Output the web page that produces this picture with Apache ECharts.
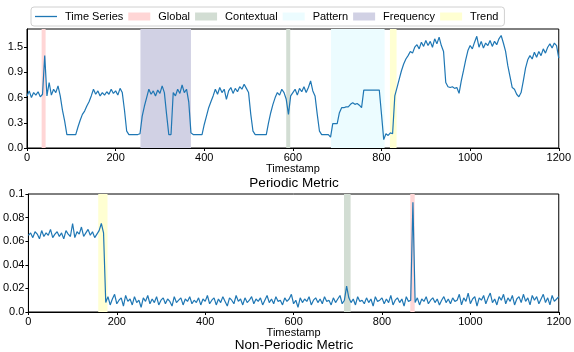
<!DOCTYPE html>
<html>
<head>
<meta charset="utf-8">
<script src="https://cdn.jsdelivr.net/npm/echarts@6/dist/echarts.min.js"></script>
<style>
  html, body { margin: 0; padding: 0; background: #fff; }
  #chart { width: 574px; height: 352px; }
</style>
</head>
<body>
<div id="chart"></div>
<script>
// one sample every 5 timestamps, 0..1200
const step = 5

const periodicValues = [
  0.62,0.68,0.60,0.66,0.63,0.67,0.61,0.64,1.10,0.62,
  0.78,0.63,0.70,0.66,0.74,0.62,0.45,0.32,0.16,0.16,
  0.16,0.16,0.16,0.25,0.33,0.40,0.44,0.50,0.55,0.62,
  0.70,0.64,0.68,0.62,0.66,0.63,0.67,0.64,0.70,0.65,
  0.68,0.63,0.71,0.66,0.45,0.20,0.16,0.16,0.16,0.16,
  0.16,0.17,0.38,0.50,0.60,0.70,0.64,0.68,0.62,0.69,
  0.65,0.74,0.66,0.40,0.16,0.16,0.66,0.62,0.70,0.65,
  0.75,0.66,0.70,0.55,0.18,0.16,0.16,0.16,0.16,0.16,
  0.28,0.38,0.48,0.55,0.62,0.70,0.64,0.72,0.66,0.70,
  0.58,0.68,0.72,0.65,0.71,0.67,0.73,0.70,0.76,0.71,
  0.66,0.40,0.20,0.16,0.16,0.16,0.16,0.16,0.16,0.30,
  0.42,0.52,0.60,0.66,0.63,0.70,0.66,0.58,0.40,0.62,
  0.66,0.70,0.63,0.71,0.67,0.73,0.66,0.72,0.80,0.68,
  0.62,0.40,0.20,0.16,0.16,0.16,0.16,0.13,0.29,0.29,
  0.29,0.42,0.48,0.48,0.49,0.49,0.52,0.54,0.52,0.53,
  0.51,0.48,0.69,0.69,0.69,0.69,0.69,0.69,0.69,0.69,
  0.40,0.10,0.17,0.15,0.18,0.17,0.62,0.72,0.82,0.92,
  1.00,1.06,1.10,1.15,1.13,1.20,1.23,1.18,1.26,1.21,
  1.28,1.22,1.27,1.20,1.30,1.24,1.32,1.22,1.15,0.78,
  0.73,0.72,0.73,0.71,0.72,0.65,0.80,0.92,1.05,1.16,
  1.22,1.18,1.26,1.33,1.20,1.27,1.19,1.25,1.22,1.28,
  1.21,1.27,1.23,1.30,1.34,1.25,1.15,0.98,0.85,0.72,
  0.70,0.64,0.61,0.66,0.80,0.95,1.05,1.10,1.06,1.14,
  1.08,1.15,1.10,1.18,1.13,1.20,1.24,1.19,1.25,1.22,
  1.07
]

const nonPeriodicValues = [
  0.065,0.067,0.063,0.068,0.066,0.062,0.069,0.064,0.067,0.065,
  0.070,0.063,0.066,0.068,0.064,0.067,0.062,0.069,0.066,0.064,
  0.075,0.063,0.068,0.066,0.072,0.064,0.067,0.070,0.065,0.068,
  0.063,0.066,0.069,0.075,0.067,
  0.008,0.013,0.006,0.011,0.015,0.007,0.010,0.012,0.005,0.014,
  0.009,0.011,0.006,0.013,0.008,0.010,0.004,0.012,0.009,0.014,
  0.007,0.011,0.008,0.013,0.006,0.010,0.012,0.007,0.011,0.009,
  0.005,0.013,0.008,0.010,0.012,0.006,0.011,0.009,0.013,0.007,
  0.010,0.008,0.012,0.006,0.011,0.009,0.014,0.007,0.010,0.012,
  0.006,0.011,0.008,0.013,0.009,0.005,0.012,0.010,0.007,0.014,
  0.009,0.011,0.006,0.012,0.008,0.010,0.013,0.007,0.011,0.009,
  0.012,0.006,0.010,0.014,0.008,0.011,0.007,0.013,0.009,0.010,
  0.006,0.012,0.009,0.011,0.015,0.007,0.010,0.004,0.012,0.008,
  0.011,0.009,0.013,0.006,0.010,0.012,0.008,0.011,0.007,0.013,
  0.009,0.010,0.006,0.012,0.008,0.011,0.014,0.007,0.010,0.022,
  0.012,0.008,0.011,0.006,0.013,0.009,0.010,0.007,0.012,0.008,
  0.011,0.005,0.013,0.009,0.010,0.012,0.007,0.011,0.008,0.014,
  0.006,0.010,0.012,0.008,0.011,0.005,0.013,0.009,0.010,0.093,
  0.008,0.012,0.006,0.011,0.009,0.013,0.007,0.010,0.012,0.008,
  0.011,0.006,0.010,0.013,0.008,0.011,0.007,0.012,0.009,0.010,
  0.015,0.006,0.012,0.009,0.016,0.007,0.011,0.013,0.005,0.012,
  0.010,0.014,0.007,0.012,0.016,0.008,0.011,0.006,0.013,0.010,
  0.015,0.007,0.012,0.009,0.014,0.006,0.011,0.013,0.008,0.015,
  0.009,0.012,0.006,0.014,0.010,0.013,0.007,0.011,0.015,0.008,
  0.012,0.006,0.014,0.009,0.011,0.013
]

// anomaly windows [start, end] in timestamps
const periodicRegions = {
  Global: [[33, 42]],
  Contextual: [[585, 594]],
  Pattern: [[686, 807]],
  Frequency: [[256, 370]],
  Trend: [[819, 834]]
}
const nonPeriodicRegions = {
  Global: [[864, 874]],
  Contextual: [[714, 729]],
  Pattern: [],
  Frequency: [],
  Trend: [[158, 179]]
}

const anomalyTypes = ['Global', 'Contextual', 'Pattern', 'Frequency', 'Trend']
const anomalyColors = {
  Global: '#ffd6d6',
  Contextual: '#d2ddd3',
  Pattern: '#ecfcff',
  Frequency: '#d1d1e4',
  Trend: '#ffffd2'
}

const periodicTickLabels = ['0.0', '0.3', '0.6', '0.9', '1.5']
const nonPeriodicTickLabels = ['0.0', '0.02', '0.04', '0.06', '0.08', '0.1']

const font = 'Liberation Sans, Arial, sans-serif'
const lineColor = '#1f77b4'

function toPairs(values) {
    return values.map((v, i) => [i * step, v])
}

function xAxisFor(gridIndex, nameGap) {
    return {
        type: 'value',
        gridIndex: gridIndex,
        min: 0,
        max: 1200,
        interval: 200,
        name: 'Timestamp',
        nameLocation: 'middle',
        nameGap: nameGap,
        nameTextStyle: { color: '#000', fontSize: 11, fontFamily: font },
        axisLine: { lineStyle: { color: '#000', width: 1 } },
        axisTick: { length: 3, lineStyle: { color: '#000' } },
        axisLabel: {
            color: '#000', fontSize: 11, fontFamily: font, margin: 4,
            formatter: function (val) { return String(val) }
        },
        splitLine: { show: false }
    }
}

function yAxisFor(gridIndex, max, interval, labels, showMax) {
    return {
        type: 'value',
        gridIndex: gridIndex,
        min: 0,
        max: max,
        interval: interval,
        axisLine: { show: true, lineStyle: { color: '#000', width: 1 } },
        axisTick: { show: true, length: 3, lineStyle: { color: '#000' } },
        axisLabel: {
            color: '#000', fontSize: 11, fontFamily: font, margin: 4,
            showMaxLabel: showMax,
            formatter: function (val, idx) {
                return labels[idx] || ''
            }
        },
        splitLine: { show: false }
    }
}

function regionSeries(regions, axisIndex) {
    return anomalyTypes.map(name => ({
        name: name,
        type: 'line',
        xAxisIndex: axisIndex,
        yAxisIndex: axisIndex,
        data: [],
        z: 1,
        itemStyle: { color: anomalyColors[name] },
        lineStyle: { color: anomalyColors[name] },
        markArea: {
            silent: true,
            itemStyle: { color: anomalyColors[name] },
            data: regions[name].map(r => [{ xAxis: r[0] }, { xAxis: r[1] }])
        }
    }))
}

const option = {
    animation: false,
    backgroundColor: '#fff',
    legend: {
        left: 31,
        top: 7,
        padding: [4, 6, 4, 4],
        itemWidth: 22,
        itemHeight: 8,
        itemGap: 5,
        borderColor: '#d0d0d0',
        borderWidth: 1,
        borderRadius: 3,
        textStyle: { color: '#000', fontSize: 11, fontFamily: font, padding: [0, 0, 0, 3] },
        data: [
            {
                name: 'Time Series',
                icon: 'path://M0,0 L22,0 L22,1.3 L0,1.3 Z',
                itemStyle: { color: lineColor, borderWidth: 0 }
            },
            { name: 'Global', icon: 'rect' },
            { name: 'Contextual', icon: 'rect' },
            { name: 'Pattern', icon: 'rect' },
            { name: 'Frequency', icon: 'rect' },
            { name: 'Trend', icon: 'rect' }
        ]
    },
    grid: [
        { left: 27, right: 12, top: 29, height: 119, show: true, borderColor: '#000', borderWidth: 1, backgroundColor: 'transparent' },
        { left: 27, right: 12, top: 194, height: 118, show: true, borderColor: '#000', borderWidth: 1, backgroundColor: 'transparent' }
    ],
    xAxis: [xAxisFor(0, 15), xAxisFor(1, 11)],
    yAxis: [
        yAxisFor(0, 1.417, 0.3, periodicTickLabels, false),
        yAxisFor(1, 0.1, 0.02, nonPeriodicTickLabels, true)
    ],
    graphic: [
        { type: 'text', x: 294, y: 183, style: { text: 'Periodic Metric', fill: '#000', font: '13.5px ' + font, textAlign: 'center', textVerticalAlign: 'middle' } },
        { type: 'text', x: 294, y: 345, style: { text: 'Non-Periodic Metric', fill: '#000', font: '13.5px ' + font, textAlign: 'center', textVerticalAlign: 'middle' } }
    ],
    series: [
        {
            name: 'Time Series',
            type: 'line',
            xAxisIndex: 0,
            yAxisIndex: 0,
            data: toPairs(periodicValues),
            symbol: 'none',
            z: 3,
            itemStyle: { color: lineColor },
            lineStyle: { color: lineColor, width: 1.2 }
        },
        {
            name: 'Time Series',
            type: 'line',
            xAxisIndex: 1,
            yAxisIndex: 1,
            data: toPairs(nonPeriodicValues),
            symbol: 'none',
            z: 3,
            itemStyle: { color: lineColor },
            lineStyle: { color: lineColor, width: 1.2 }
        }
    ].concat(regionSeries(periodicRegions, 0), regionSeries(nonPeriodicRegions, 1))
}

const chart = echarts.init(document.getElementById('chart'))
chart.setOption(option)
</script>
</body>
</html>
